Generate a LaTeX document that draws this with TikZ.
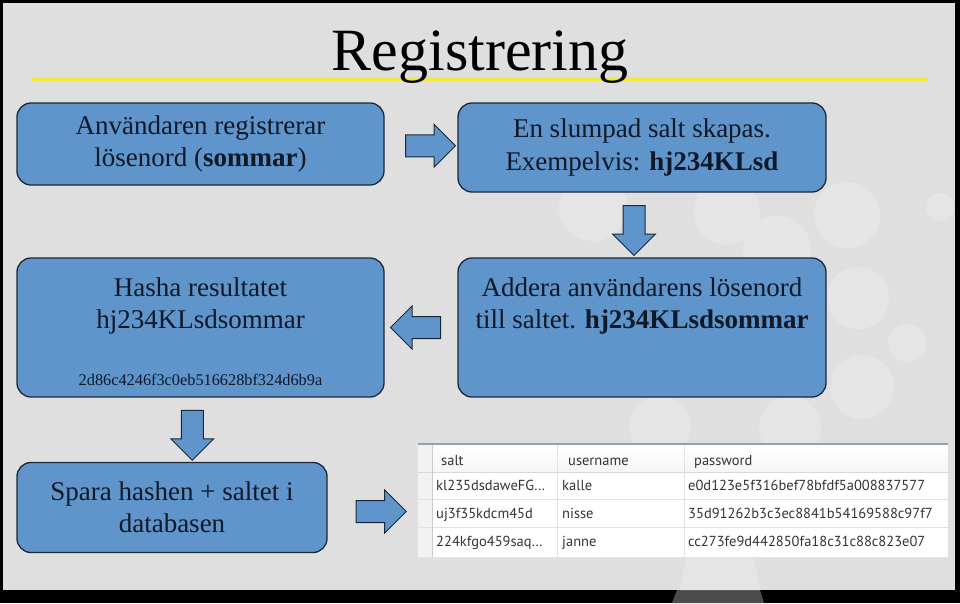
\documentclass[tikz,border=0pt]{standalone}
\usepackage{fontspec}
\setmainfont{Liberation Serif}
\newfontfamily\tabfont{PT Sans}
\usetikzlibrary{positioning,calc,shapes.arrows}
\definecolor{ramgra}{HTML}{DFDFDF}
\definecolor{cirkel}{HTML}{E5E5E5}
\definecolor{ruta}{HTML}{5F95CB}
\definecolor{kant}{HTML}{1B2838}
\definecolor{tekst}{HTML}{0F1826}
\definecolor{gul}{HTML}{F2EA3C}
\definecolor{tabkant}{HTML}{8FA4AE}
\definecolor{tablinje}{HTML}{E2E2E2}
\definecolor{tabtext}{HTML}{353535}
\begin{document}
\begin{tikzpicture}[x=1pt, y=-1pt,
    boxtext/.style={text=tekst, align=center, inner sep=0pt, font=\fontsize{27}{32.5}\selectfont},
    box/.style={boxtext, draw=kant, line width=1.3pt, fill=ruta, rounded corners=14pt},
    hashtext/.style={boxtext, font=\fontsize{16.3}{19}\selectfont},
    pil/.style={single arrow, draw=kant, line width=1pt, fill=ruta, inner xsep=0pt, inner ysep=10.5pt,
      single arrow head extend=10.5pt, single arrow tip angle=90, minimum height=50pt},
    cell/.style={anchor=base west, inner sep=0pt, text=tabtext, font=\tabfont\fontsize{14.5}{17}\selectfont}]
  \useasboundingbox (0,0) rectangle (960,603);
  % ram och bakgrund
  \fill[black] (0,0) rectangle (960,603);
  \fill[ramgra] (3,3) rectangle (955,590);
  \fill[gray!60!black] (677,590) -- (760,590) -- (764,603) -- (672,603) -- cycle;
  \fill[cirkel] (686,557) -- (754,557) -- (760,590) -- (680,590) -- cycle;
  \foreach \x/\y/\r in {593/207/34, 727/212/33, 847/215/33, 777/250/34, 858/298/31,
      907/343/19, 862/387/32, 660/427/31, 790/427/31, 940/207/14}
    \fill[cirkel] (\x,\y) circle[radius=\r];

  % rubrik
  \draw[gul, line width=3.5pt] (32,79) -- (927,79);
  \node[anchor=base, inner sep=0pt, font=\fontsize{60}{70}\selectfont] (rubrik) at (480,70) {Registrering};

  % rutorna
  \node[box, minimum width=367pt, minimum height=82pt] (anv) at (200.5,144)
    {Användaren registrerar\\lösenord (\textbf{sommar})};
  \node[box, minimum width=368pt, minimum height=89pt] (slump) at (642,147.5)
    {En slumpad salt skapas.\\Exempelvis: \textbf{hj234KLsd}};
  \node[box, minimum width=367pt, minimum height=139pt] (hasha) at (200.5,327.5) {};
  \node[boxtext, below=20pt of hasha.north] (hashatext) {Hasha resultatet\\hj234KLsdsommar};
  \node[hashtext, above=12pt of hasha.south] (hashvarde) {2d86c4246f3c0eb516628bf324d6b9a};
  \node[box, minimum width=368pt, minimum height=139pt] (addera) at (642,327.5) {};
  \node[boxtext, below=20pt of addera.north] (adderatext)
    {Addera användarens lösenord\\till saltet. \textbf{hj234KLsdsommar}};
  \node[box, minimum width=310pt, minimum height=90pt] (spara) at (172,507.5)
    {Spara hashen + saltet i\\databasen};

  % tabellen
  \node[fill=white, inner sep=0pt, minimum width=530pt, minimum height=113pt] (tabell) at (683,500.5) {};
  \fill[gray!10] (418,444) rectangle (432,557);
  \shade[top color=white, bottom color=gray!8] (432,445) rectangle (948,472);
  \foreach \y in {499,527,557}
    \draw[tablinje] (418,\y) -- (948,\y);
  \draw[gray!30] (418,472) -- (948,472);
  \foreach \x in {557,684}
    \draw[tablinje] (\x,445) -- (\x,557);
  \draw[gray!40] (432,445) -- (432,557);
  \draw[tabkant, line width=2pt] (tabell.north west) -- (tabell.north east);
  \node[cell] (hsalt) at (441,465) {salt};
  \node[cell] (hnamn) at (568,465) {username};
  \node[cell] (hlos) at (694,465) {password};
  \foreach \salt/\namn/\los [count=\i] in {kl235dsdaweFG\dots/kalle/e0d123e5f316bef78bfdf5a008837577,
      uj3f35kdcm45d/nisse/35d91262b3c3ec8841b54169588c97f7,
      224kfgo459saq\dots/janne/cc273fe9d442850fa18c31c88c823e07}{
    \node[cell] (salt\i) at (436,462+28*\i) {\salt};
    \node[cell] (namn\i) at (562,462+28*\i) {\namn};
    \node[cell] (los\i) at (688,462+28*\i) {\los};
  }

  % pilarna
  \node[pil, xshift=4pt] (pil1) at ($(anv.east)!.5!(slump.west)$) {};
  \node[pil, xshift=-8pt, rotate=270] (pil2) at ($(slump.south)!.5!(addera.north)$) {};
  \node[pil, rotate=180] (pil3) at ($(addera.west)!.5!(hasha.east)$) {};
  \node[pil, xshift=6pt, rotate=270] (pil4) at ($(hasha.south)!.5!(spara.north)$) {};
  \node[pil, yshift=-4pt, xshift=3pt] (pil5) at ($(spara.east)!.5!(spara.east -| tabell.west)$) {};
\end{tikzpicture}
\end{document}
